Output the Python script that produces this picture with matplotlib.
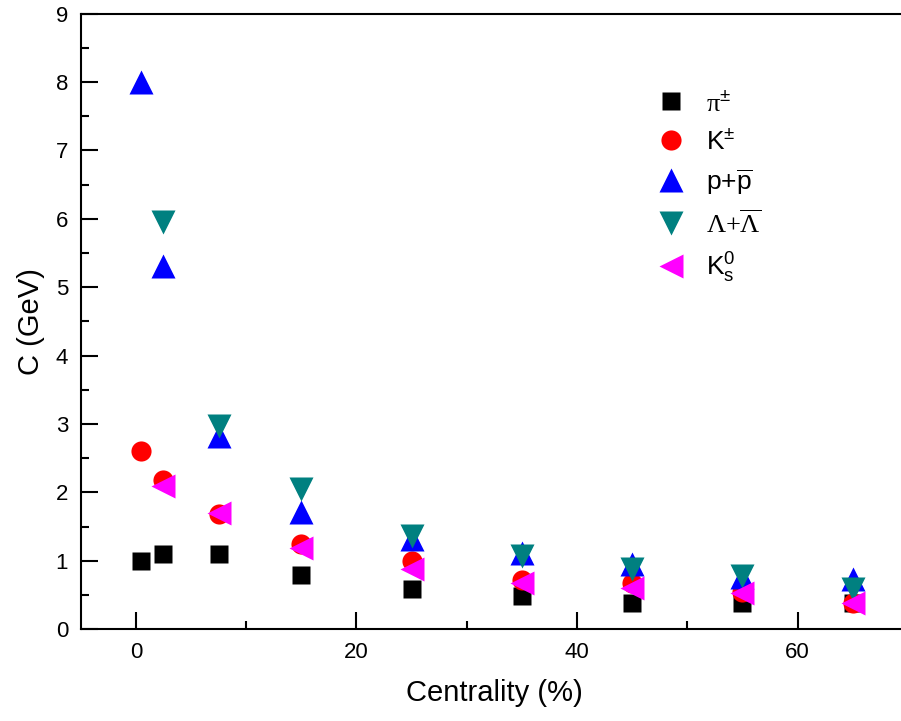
import matplotlib
matplotlib.use('Agg')
import matplotlib.pyplot as plt
from matplotlib.ticker import MultipleLocator

plt.rcParams['font.family'] = ['Liberation Sans', 'DejaVu Sans']
plt.rcParams['mathtext.fontset'] = 'custom'
plt.rcParams['mathtext.rm'] = 'Liberation Sans'
plt.rcParams['mathtext.it'] = 'Liberation Sans'
plt.rcParams['mathtext.sf'] = 'Liberation Sans'
plt.rcParams['mathtext.cal'] = 'Liberation Serif'

# centrality bins (%)
cent = [0.5, 2.5, 7.5, 15, 25, 35, 45, 55, 65]
cent_lam = [2.5, 7.5, 15, 25, 35, 45, 55, 65]
cent_k0 = [2.5, 7.5, 15, 25, 35, 45, 55, 65]

c_pi = [1.0, 1.1, 1.1, 0.79, 0.59, 0.48, 0.38, 0.38, 0.38]
c_k = [2.6, 2.18, 1.69, 1.24, 1.0, 0.72, 0.67, 0.54, 0.38]
c_p = [8.0, 5.31, 2.83, 1.72, 1.32, 1.11, 0.95, 0.76, 0.74]
c_lam = [5.96, 2.97, 2.05, 1.36, 1.07, 0.88, 0.78, 0.59]
c_k0 = [2.09, 1.7, 1.19, 0.88, 0.67, 0.6, 0.53, 0.38]

fig = plt.figure(figsize=(9.01, 7.21), dpi=100)
ax = fig.add_axes([0.0896, 0.1272, 0.918, 0.854])

ax.plot(cent, c_pi, 's', color='black', ms=13, mec='none', label=r'$\mathcal{\pi}^{\pm}$')
ax.plot(cent, c_k, 'o', color='#ff0000', ms=14.5, mec='none', label=r'$\mathrm{K}^{\pm}$')
ax.plot(cent, c_p, '^', color='#0000ff', ms=17, mec='none', label=r'$\mathrm{p{+}\overline{p}}$')
ax.plot(cent_lam, c_lam, 'v', color='#008080', ms=17, mec='none', label=r'$\mathcal{\Lambda{+}\overline{\Lambda}}$')
ax.plot(cent_k0, c_k0, '<', color='#ff00ff', ms=17, mec='none', label=r'$\mathrm{K_s^0}$')

ax.set_xlim(-5, 70)
ax.set_ylim(0, 9)
ax.xaxis.set_major_locator(MultipleLocator(20))
ax.xaxis.set_minor_locator(MultipleLocator(10))
ax.yaxis.set_major_locator(MultipleLocator(1))
ax.yaxis.set_minor_locator(MultipleLocator(0.5))
ax.tick_params(which='both', direction='in', top=False, right=False, width=1.5, labelsize=16)
ax.tick_params(which='major', length=12, pad=9)
ax.tick_params(which='minor', length=6)
for s in ax.spines.values():
    s.set_linewidth(1.5)

ax.set_xlabel('Centrality (%)', fontsize=21, labelpad=12)
ax.set_ylabel('C (GeV)', fontsize=21, labelpad=8)

leg = ax.legend(loc='upper left', bbox_to_anchor=(645 / 901, 1 - 80 / 721),
                bbox_transform=fig.transFigure, frameon=False, fontsize=19,
                handlelength=1.2, handletextpad=0.7, labelspacing=0.5,
                numpoints=1, borderaxespad=0)

fig.savefig('out.png', dpi=100)
